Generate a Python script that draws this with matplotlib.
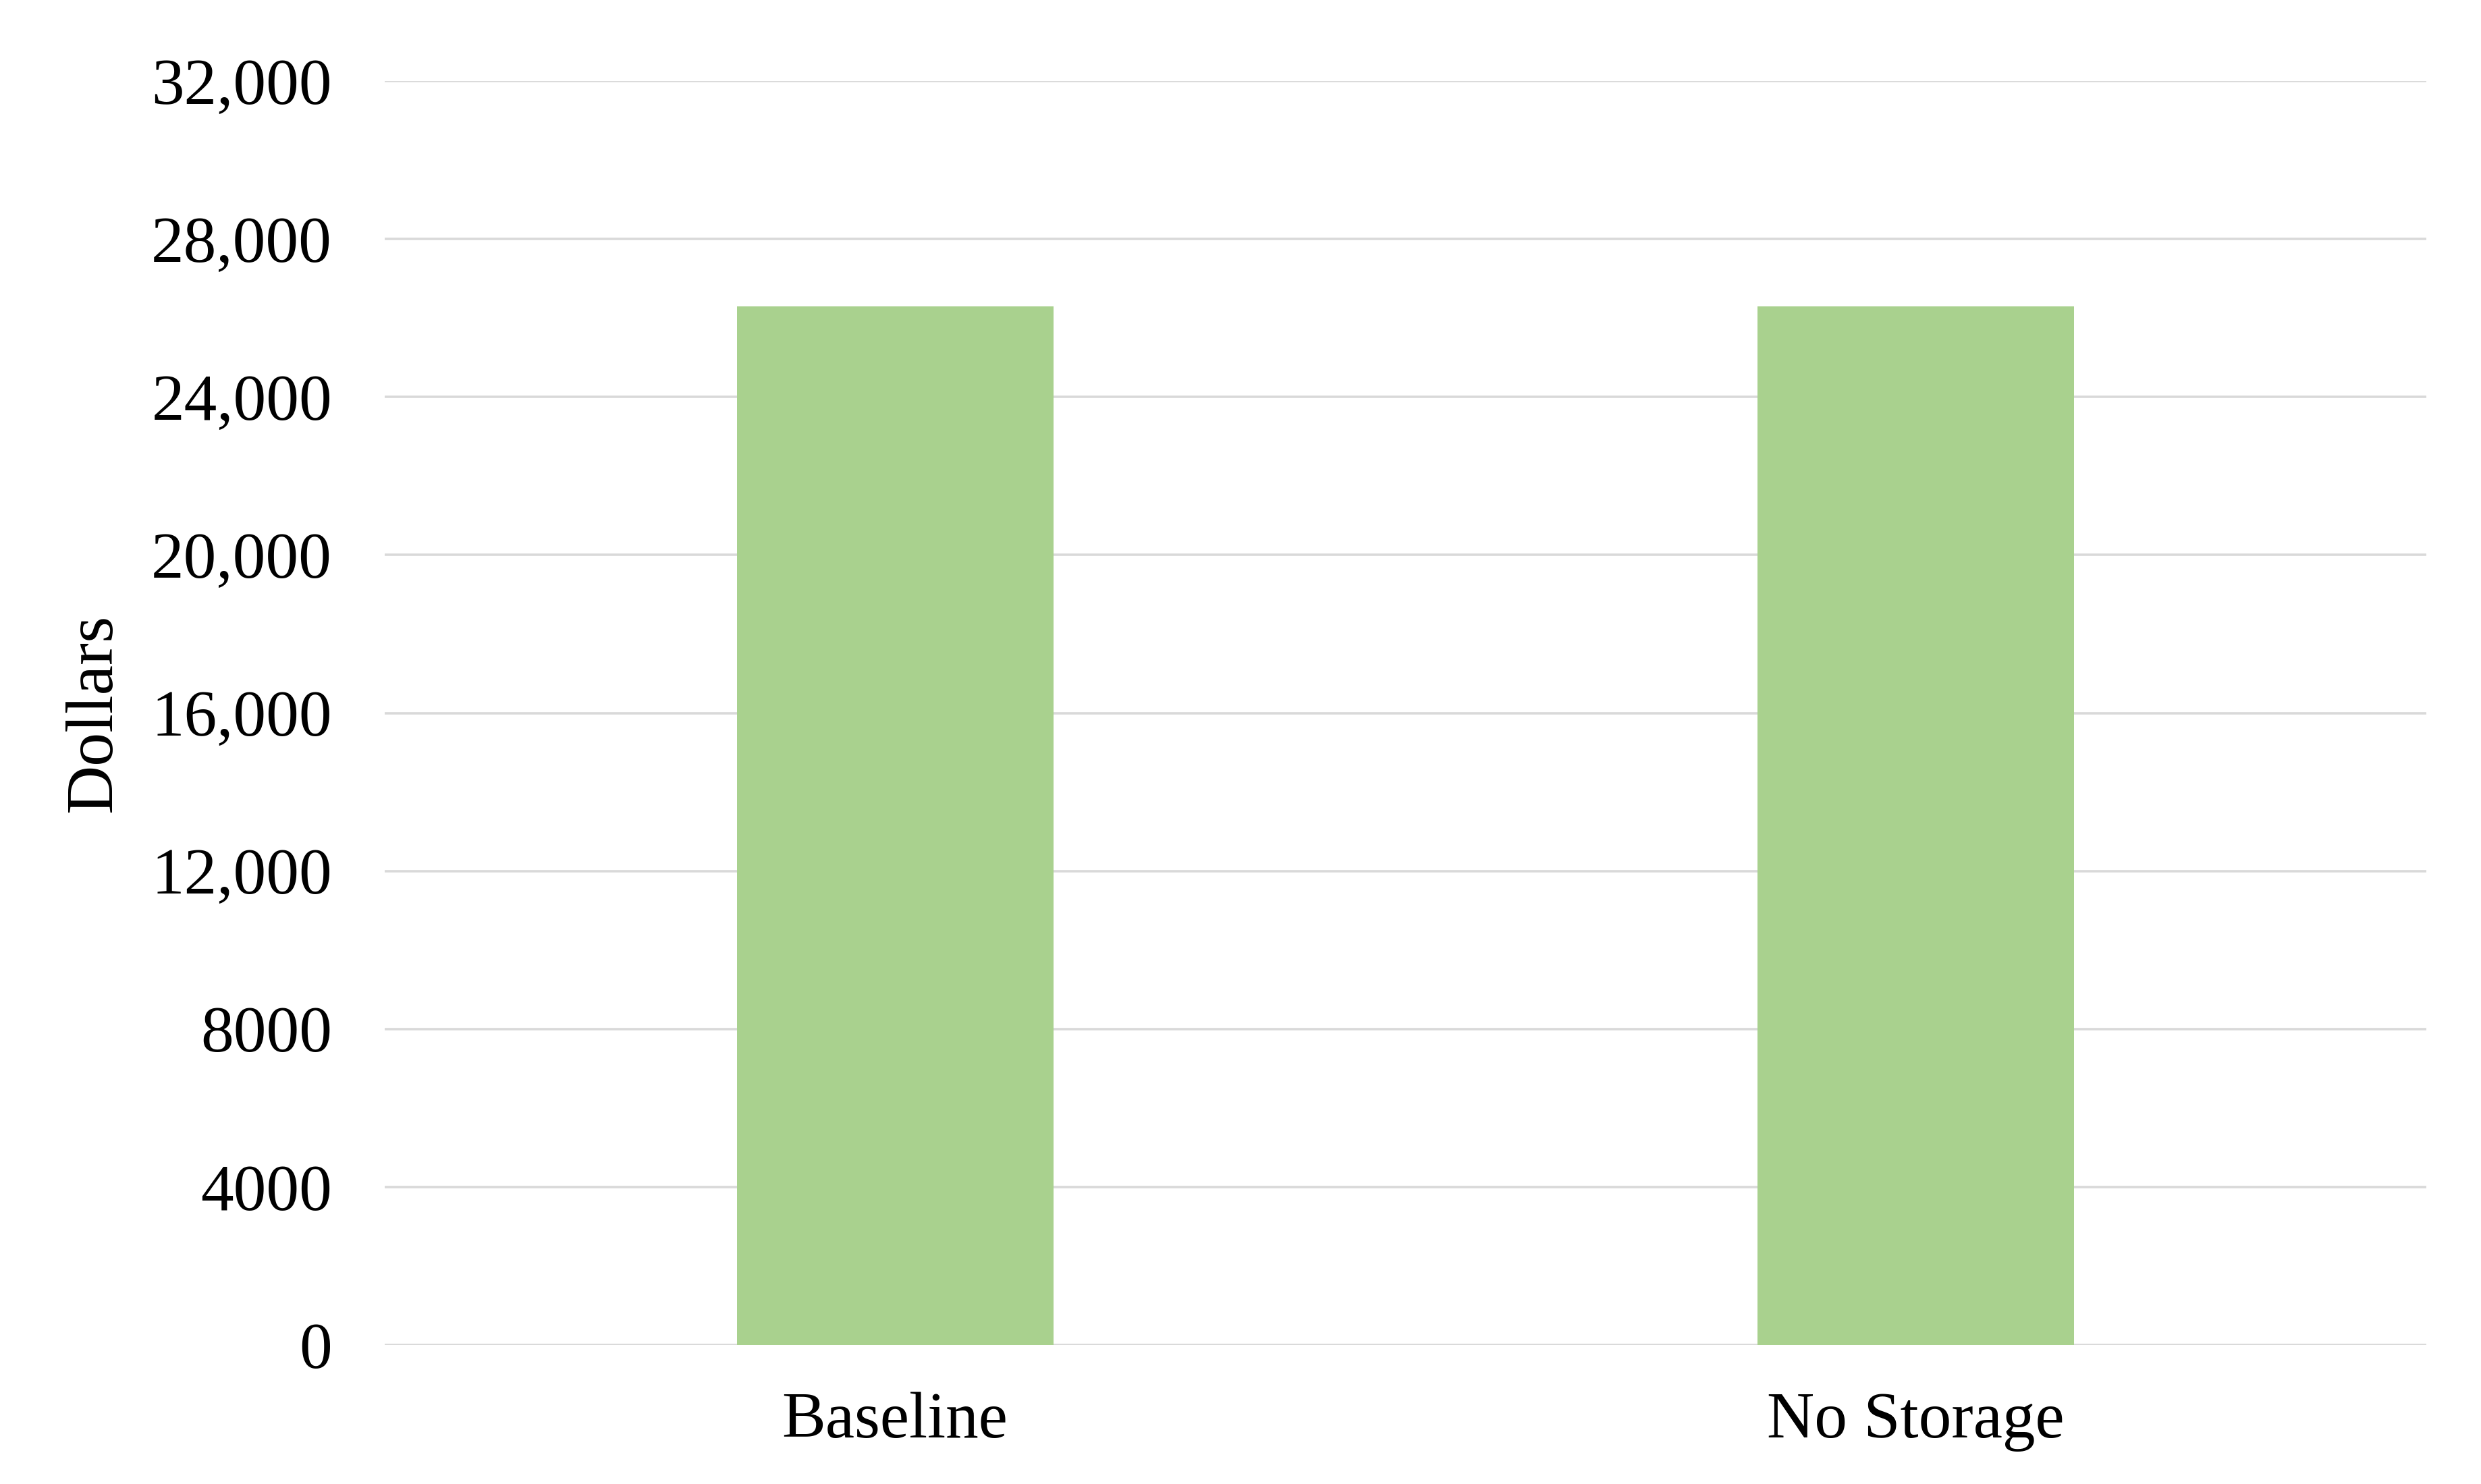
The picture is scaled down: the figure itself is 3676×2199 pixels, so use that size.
import matplotlib.pyplot as plt

categories = ["Baseline", "No Storage"]
costs = [26300, 26300]
y_ticks = [0, 4000, 8000, 12000, 16000, 20000, 24000, 28000, 32000]
y_tick_labels = ["0", "4000", "8000", "12,000", "16,000", "20,000", "24,000", "28,000", "32,000"]

plt.rcParams["font.family"] = ["Liberation Serif", "DejaVu Serif"]

fig = plt.figure(figsize=(18.38, 10.995), dpi=200)
ax = fig.add_axes([0.155, 0.0937, 0.823, 0.8517])

x = range(len(categories))
ax.bar(x, costs, width=0.31, color="#a9d18e", zorder=3)

ax.set_xlim(-0.5, len(categories) - 0.5)
ax.set_ylim(0, 32000)
ax.set_yticks(y_ticks)
ax.set_yticklabels(y_tick_labels)
ax.set_xticks(list(x))
ax.set_xticklabels(categories)

ax.grid(axis="y", color="#d9d9d9", linewidth=1.3, zorder=0)
ax.set_axisbelow(True)
for s in ax.spines.values():
    s.set_visible(False)
ax.tick_params(axis="both", length=0, labelsize=35)
ax.tick_params(axis="y", pad=28)
ax.tick_params(axis="x", pad=25)
ax.set_ylabel("Dollars", fontsize=36, labelpad=14)

fig.savefig("out.png", dpi=200, facecolor="white")
